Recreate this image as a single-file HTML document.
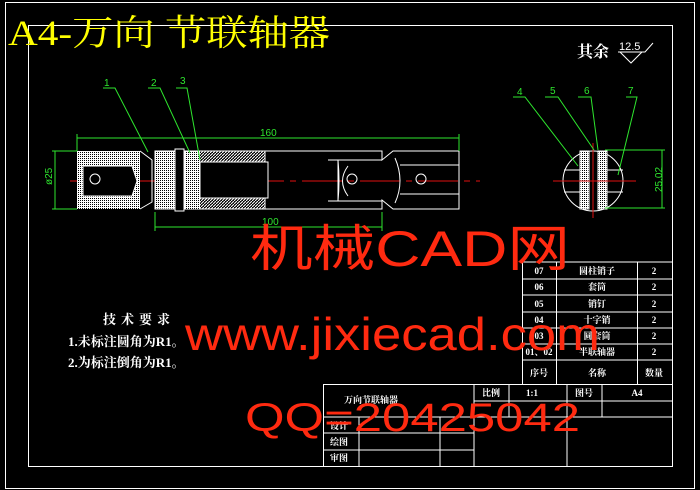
<!DOCTYPE html>
<html><head><meta charset="utf-8"><style>
html,body{margin:0;padding:0;background:#000;width:700px;height:490px;overflow:hidden}
svg{display:block}
.w{fill:none;stroke:#fff;stroke-width:1}
.g{fill:none;stroke:#2ee62e;stroke-width:1}
.t{font-family:"Liberation Serif","Noto Serif CJK SC",serif;fill:#fff;font-weight:bold}
.gt{font-family:"Liberation Sans",sans-serif;fill:#2ee62e;font-size:10px}
.r{font-family:"Liberation Sans","Noto Sans CJK SC",sans-serif;fill:#ff2a10}
</style></head><body>
<svg width="700" height="490" viewBox="0 0 700 490" xmlns="http://www.w3.org/2000/svg">
<defs>
<pattern id="h1" width="3" height="3" patternUnits="userSpaceOnUse"><rect width="3" height="3" fill="#000"/><path d="M0 3L3 0" stroke="#fff" stroke-width="1"/></pattern>
<pattern id="h2" width="2" height="2" patternUnits="userSpaceOnUse"><rect width="2" height="2" fill="#fff"/><rect width="1" height="1" fill="#000"/></pattern>
</defs>
<!-- frames -->
<rect x="5.5" y="2.5" width="689" height="486" class="w"/>
<rect x="28.5" y="25.5" width="644" height="441" class="w"/>
<text x="8" y="45" font-family="Liberation Serif,'Noto Serif CJK SC',serif" font-size="36" fill="#ffff00" textLength="322" lengthAdjust="spacingAndGlyphs">A4-万向 节联轴器</text>
<!-- roughness -->
<text x="577" y="57" class="t" font-size="16">其余</text>
<text x="619" y="50" font-family="Liberation Sans" font-size="11" fill="#fff">12.5</text>
<path d="M618 52H645L653 43M620 52L631 63L642 52" class="w"/>
<!-- center line -->
<path d="M70 181H480" stroke="#e01010" stroke-width="1" stroke-dasharray="40 6 6 6"/>
<!-- left part -->
<rect x="77" y="151" width="63" height="58" fill="url(#h2)"/>
<path d="M83 166H132L137 181L132 196H83Z" fill="#000" stroke="#fff"/>
<circle cx="95" cy="179" r="5" class="w"/>
<path d="M140 151L152 160V202L140 209" class="w"/>
<rect x="155" y="151" width="20" height="58" fill="url(#h2)" stroke="#fff"/>
<rect x="175" y="149" width="9" height="62" fill="#000" stroke="#fff"/>
<rect x="185" y="151" width="80" height="58" fill="url(#h1)" stroke="#fff"/>
<rect x="185" y="151" width="15" height="58" fill="url(#h2)"/>
<path d="M200 162H268V198H200Z" fill="#000" stroke="#fff"/>
<path d="M265 151H382V160L393 151H459V209H393L382 200V209H265" class="w"/>
<path d="M328 160H382M328 201H382M338 160V201M338 160Q340 181 338 201" class="w"/>
<path d="M348 166Q337 181 348 196" class="w"/>
<circle cx="352" cy="179" r="5" class="w"/>
<circle cx="421" cy="179" r="5" class="w"/>
<path d="M400 165H459M400 194H459M395 158Q405 181 395 203" class="w"/>
<!-- dims -->
<path d="M77 138H459M77 134V151M459 134V151" class="g"/>
<text x="260" y="136" class="gt">160</text>
<path d="M55 151V209M52 151H77M52 209H77" class="g"/>
<text x="52" y="185" class="gt" transform="rotate(-90 52 185)">ø25</text>
<path d="M155 227H382M155 212V231M382 212V231" class="g"/>
<text x="262" y="225" class="gt">100</text>
<!-- leaders left -->
<path d="M103 88H115L148 152M148 88H160L190 153M176 88H187L200 160" class="g"/>
<text x="104" y="86" class="gt">1</text><text x="151" y="86" class="gt">2</text><text x="180" y="84" class="gt">3</text>
<!-- right view -->
<circle cx="593" cy="181" r="30" class="w"/>
<rect x="580" y="151" width="9" height="58" fill="url(#h2)" stroke="#fff"/>
<rect x="598" y="151" width="9" height="58" fill="url(#h2)" stroke="#fff"/>
<path d="M564 170H580M564 192H580M607 170H623M607 192H623" class="w"/>
<path d="M553 181H636M593 143V218" stroke="#e01010"/>
<path d="M605 150H665M605 208H665M662 150V208" class="g"/>
<text x="662" y="192" class="gt" transform="rotate(-90 662 192)">25.02</text>
<path d="M513 97H525L578 166M545 97H558L594 150M578 97H591L598 150M626 97H637L618 175" class="g"/>
<text x="517" y="95" class="gt">4</text><text x="550" y="94" class="gt">5</text><text x="584" y="94" class="gt">6</text><text x="628" y="94" class="gt">7</text>
<!-- tech req -->
<text x="103" y="324" class="t" font-size="13" letter-spacing="5">技术要求</text>
<text x="68" y="346" class="t" font-size="13">1.未标注圆角为R1。</text>
<text x="68" y="367" class="t" font-size="13">2.为标注倒角为R1。</text>
<!-- parts table -->
<g class="w">
<path d="M522 262H672M522 279H672M522 295H672M522 312H672M522 328H672M522 344H672M522 360H672"/>
<path d="M522.5 262V384M556.5 262V384M637.5 262V384M672.5 262V384"/>
<rect x="323.5" y="384.5" width="349" height="82"/>
<path d="M474 401H672M323 417H672M323 433H474M323 450H474M474 384V466M509 384V417M567 384V466M602 384V417M359 417V466M440 417V466"/>
</g>
<g class="t" font-size="9" text-anchor="middle">
<text x="539" y="274">07</text><text x="597" y="274">圆柱销子</text><text x="654" y="274">2</text>
<text x="539" y="290">06</text><text x="597" y="290">套筒</text><text x="654" y="290">2</text>
<text x="539" y="307">05</text><text x="597" y="307">销钉</text><text x="654" y="307">2</text>
<text x="539" y="323">04</text><text x="597" y="323">十字销</text><text x="654" y="323">2</text>
<text x="539" y="339">03</text><text x="597" y="339">圆套筒</text><text x="654" y="339">2</text>
<text x="539" y="355">01、02</text><text x="597" y="355">半联轴器</text><text x="654" y="355">2</text>
<text x="539" y="376">序号</text><text x="597" y="376">名称</text><text x="654" y="376">数量</text>
<text x="491" y="396">比例</text><text x="532" y="396">1:1</text><text x="584" y="396">图号</text><text x="637" y="396">A4</text>
<text x="371" y="403">万向节联轴器</text>
<text x="339" y="429">设计</text><text x="339" y="445">绘图</text><text x="339" y="461">审图</text>
</g>
<!-- watermarks -->
<text x="250" y="266" class="r" font-size="50" textLength="320" lengthAdjust="spacingAndGlyphs">机械CAD网</text>
<text x="185" y="350" class="r" font-size="46" textLength="415" lengthAdjust="spacingAndGlyphs">www.jixiecad.com</text>
<text x="245" y="431" class="r" font-size="40" textLength="335" lengthAdjust="spacingAndGlyphs">QQ=20425042</text>
</svg>
</body></html>
